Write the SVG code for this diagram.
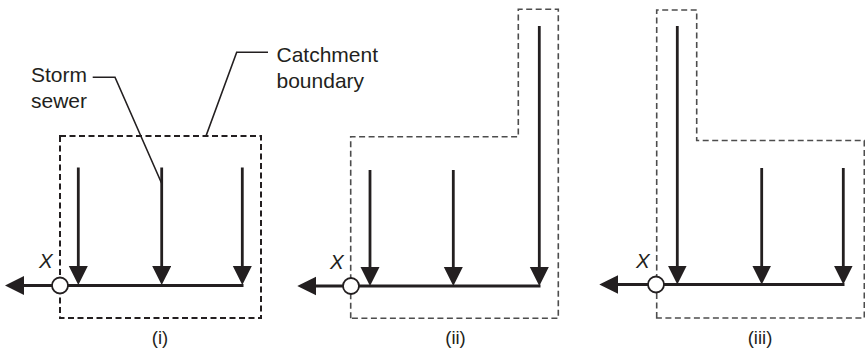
<svg xmlns="http://www.w3.org/2000/svg" width="865" height="348" viewBox="0 0 865 348">
  <style>
    .txt { font-family: "Liberation Sans", Arial, sans-serif; font-size: 21px; fill: #231f20; }
    .cap { font-family: "Liberation Sans", Arial, sans-serif; font-size: 18.5px; fill: #231f20; text-anchor: middle; }
    .xl { font-family: "Liberation Sans", Arial, sans-serif; font-size: 20.5px; font-style: italic; fill: #231f20; }
    .bnd1 { fill: none; stroke: #231f20; stroke-width: 2; stroke-dasharray: 6 3.5; }
    .bnd2 { fill: none; stroke: #4d4d4d; stroke-width: 1.6; stroke-dasharray: 6 3.5; }
    .sewer { fill: none; stroke: #231f20; stroke-width: 2.8; }
    .main { fill: none; stroke: #231f20; stroke-width: 3; }
    .lead { fill: none; stroke: #231f20; stroke-width: 1.6; }
    .outlet { fill: #fff; stroke: #231f20; stroke-width: 1.8; }
  </style>
  <defs>
    <marker id="ah" markerUnits="userSpaceOnUse" markerWidth="20" markerHeight="20" refX="9" refY="9.5" orient="auto">
      <path d="M0,0 L19,9.5 L0,19 Z" fill="#231f20"/>
    </marker>
  </defs>

  <g id="panel-i">
    <rect class="bnd1" x="60" y="136" width="201" height="182"/>
    <text class="cap" x="160" y="344">(i)</text>
  </g>
  <g id="panel-ii">
    <path class="bnd2" d="M350.7,318.3 V136.7 H518.3 V9.3 H558.3 V318.3 Z"/>
    <text class="cap" x="455.5" y="344">(ii)</text>
  </g>
  <g id="panel-iii">
    <path class="bnd2" d="M656.7,318 V10 H696.7 V140.5 H864.3 V318 Z"/>
    <text class="cap" x="760" y="344">(iii)</text>
  </g>

  <g id="label-storm-sewer">
    <text class="txt" x="31" y="82">Storm</text>
    <text class="txt" x="31" y="108">sewer</text>
  </g>
  <g id="label-catchment">
    <text class="txt" x="276.5" y="62">Catchment</text>
    <text class="txt" x="276.5" y="88">boundary</text>
  </g>

  <g id="connectors">
    <!-- leaders -->
    <path class="lead" d="M92.7,77.3 H115 L161.5,183"/>
    <path class="lead" d="M268,52.3 H236.7 L206,136"/>

    <!-- panel i -->
    <line class="sewer" x1="78.3" y1="167.5" x2="78.3" y2="275" marker-end="url(#ah)"/>
    <line class="sewer" x1="161.7" y1="167.5" x2="161.7" y2="275" marker-end="url(#ah)"/>
    <line class="sewer" x1="242.3" y1="167.5" x2="242.3" y2="275" marker-end="url(#ah)"/>
    <line class="main" x1="60" y1="285.5" x2="243.5" y2="285.5"/>
    <line class="main" x1="60" y1="285.5" x2="15" y2="285.5" marker-end="url(#ah)"/>

    <!-- panel ii -->
    <line class="sewer" x1="370" y1="170" x2="370" y2="276" marker-end="url(#ah)"/>
    <line class="sewer" x1="453.3" y1="170" x2="453.3" y2="276" marker-end="url(#ah)"/>
    <line class="sewer" x1="539.3" y1="26" x2="539.3" y2="276" marker-end="url(#ah)"/>
    <line class="main" x1="351" y1="286" x2="540.5" y2="286"/>
    <line class="main" x1="351" y1="286" x2="307.3" y2="286" marker-end="url(#ah)"/>

    <!-- panel iii -->
    <line class="sewer" x1="677.3" y1="26" x2="677.3" y2="274.5" marker-end="url(#ah)"/>
    <line class="sewer" x1="761.7" y1="168" x2="761.7" y2="274.5" marker-end="url(#ah)"/>
    <line class="sewer" x1="843.3" y1="168" x2="843.3" y2="274.5" marker-end="url(#ah)"/>
    <line class="main" x1="656" y1="284.5" x2="844.5" y2="284.5"/>
    <line class="main" x1="656" y1="284.5" x2="609.3" y2="284.5" marker-end="url(#ah)"/>
  </g>

  <g id="outlet-i">
    <circle class="outlet" cx="60" cy="285.5" r="8"/>
    <text class="xl" x="39" y="268">X</text>
  </g>
  <g id="outlet-ii">
    <circle class="outlet" cx="351" cy="286" r="8"/>
    <text class="xl" x="330" y="268.5">X</text>
  </g>
  <g id="outlet-iii">
    <circle class="outlet" cx="656" cy="284.5" r="8"/>
    <text class="xl" x="636" y="268">X</text>
  </g>
</svg>
